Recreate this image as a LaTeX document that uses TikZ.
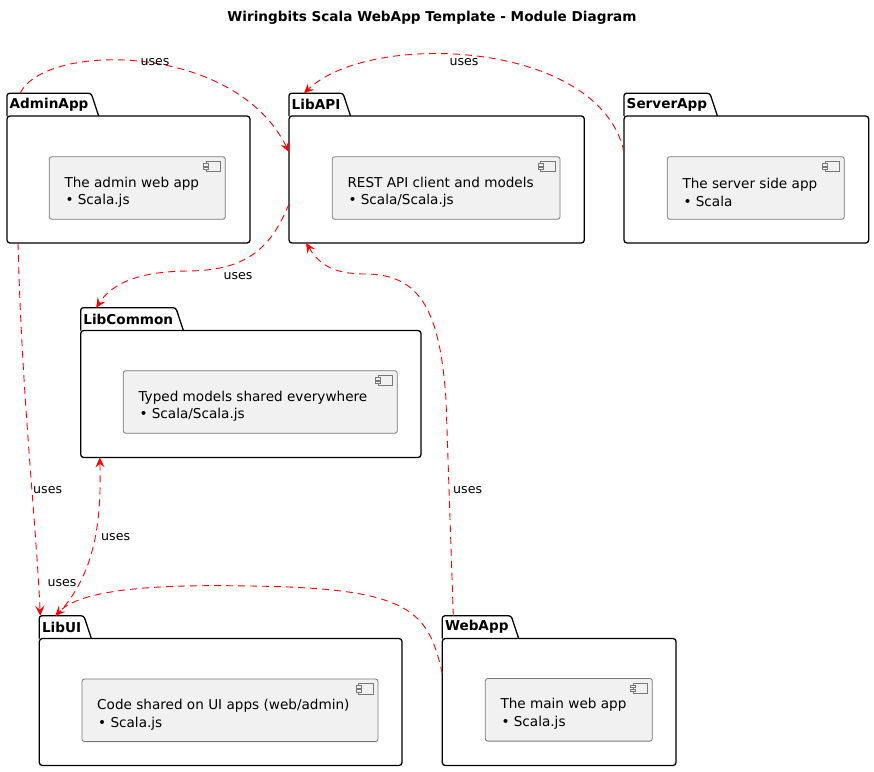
\documentclass[tikz,border=0pt]{standalone}
\usepackage{fontspec}
\setmainfont{DejaVu Sans}
\usepackage{tikz}
\usetikzlibrary{arrows.meta}
\usepackage{xcolor}
\definecolor{ColEdge}{RGB}{255,0,0}
\definecolor{ColComp}{RGB}{241,241,241}
\definecolor{ColCompLine}{RGB}{120,120,120}
\tikzstyle{PkgBody}=[draw=black,fill=white,line width=1.3pt,rounded corners=3pt,anchor=north west,
inner sep=0pt,outer sep=0pt,minimum height=127pt]
\tikzstyle{PkgTab}=[anchor=south west,inner xsep=2.7pt,inner ysep=0pt,outer sep=0pt,minimum height=22.7pt,
font=\fontsize{13.6}{16}\selectfont\bfseries]
\tikzstyle{PkgTabLine}=[draw=black,line width=1.3pt,rounded corners=2.5pt]
\tikzstyle{CompBox}=[draw=ColCompLine,fill=ColComp,line width=0.8pt,rounded corners=2.5pt,anchor=north west,
inner sep=0pt,outer sep=0pt,minimum height=62.6pt]
\tikzstyle{CompText}=[anchor=west,align=left,inner sep=0pt,font=\fontsize{13.6}{17.7}\selectfont]
\tikzstyle{CompIcon}=[draw=ColCompLine,fill=ColComp,line width=0.7pt]
\tikzstyle{EdgeUses}=[ColEdge,line width=0.9pt,dash pattern=on 7pt off 5pt,
-{Stealth[length=10pt,width=9pt,inset=4pt]}]
\tikzstyle{EdgeLabel}=[inner sep=0pt,font=\fontsize{12.6}{15}\selectfont]
\tikzstyle{TitleText}=[font=\fontsize{13.6}{16}\selectfont\bfseries]

\begin{document}
\begin{tikzpicture}[x=1pt,y=-1pt]
        \useasboundingbox (0,0) rectangle (874,771);
        \node[TitleText](Title)at(432,18){Wiringbits Scala WebApp Template - Module Diagram};
        % packages
        \node[PkgBody,minimum width=243pt](AdminApp)at(7,116){};
        \node[PkgTab](AdminAppTab)at(AdminApp.north west){AdminApp};
        \node[PkgBody,minimum width=295.3pt](LibAPI)at(289,116){};
        \node[PkgTab](LibAPITab)at(LibAPI.north west){LibAPI};
        \node[PkgBody,minimum width=244.7pt](ServerApp)at(624,116){};
        \node[PkgTab](ServerAppTab)at(ServerApp.north west){ServerApp};
        \node[PkgBody,minimum width=340.3pt](LibCommon)at(80.7,330.5){};
        \node[PkgTab](LibCommonTab)at(LibCommon.north west){LibCommon};
        \node[PkgBody,minimum width=362.7pt](LibUI)at(39.3,638.5){};
        \node[PkgTab](LibUITab)at(LibUI.north west){LibUI};
        \node[PkgBody,minimum width=233.7pt](WebApp)at(442.3,638.5){};
        \node[PkgTab](WebAppTab)at(WebApp.north west){WebApp};
        \foreach \p in {AdminAppTab,LibAPITab,ServerAppTab,LibCommonTab,LibUITab,WebAppTab}
          \draw[PkgTabLine](\p.south west)--(\p.north west)--(\p.north east)--([xshift=7.5pt]\p.south east);
        % components
        \node[CompBox,minimum width=176pt](AdminComp)at(49.3,156.7){};
        \node[CompText](AdminText)at([shift={(15,35.5)}]AdminComp.north west)
          {The admin web app\\\hspace*{1pt}• Scala.js};
        \node[CompBox,minimum width=227.7pt](LibAPIComp)at(332.3,156.7){};
        \node[CompText](LibAPIText)at([shift={(15,35.5)}]LibAPIComp.north west)
          {REST API client and models\\\hspace*{1pt}• Scala/Scala.js};
        \node[CompBox,minimum width=177pt](ServerComp)at(667.3,156.7){};
        \node[CompText](ServerText)at([shift={(15,35.5)}]ServerComp.north west)
          {The server side app\\\hspace*{1pt}• Scala};
        \node[CompBox,minimum width=274pt](LibCommonComp)at(123.3,370.7){};
        \node[CompText](LibCommonText)at([shift={(15,35.5)}]LibCommonComp.north west)
          {Typed models shared everywhere\\\hspace*{1pt}• Scala/Scala.js};
        \node[CompBox,minimum width=296pt](LibUIComp)at(82,679){};
        \node[CompText](LibUIText)at([shift={(15,35.5)}]LibUIComp.north west)
          {Code shared on UI apps (web/admin)\\\hspace*{1pt}• Scala.js};
        \node[CompBox,minimum width=167pt](WebComp)at(485.3,678.5){};
        \node[CompText](WebText)at([shift={(15,35.5)}]WebComp.north west)
          {The main web app\\\hspace*{1pt}• Scala.js};
        \foreach \c in {AdminComp,LibAPIComp,ServerComp,LibCommonComp,LibUIComp,WebComp}{
          \draw[CompIcon]([shift={(-19.3,4.5)}]\c.north east)rectangle([shift={(-5,15)}]\c.north east);
          \draw[CompIcon]([shift={(-22,6.8)}]\c.north east)rectangle([shift={(-16.5,9.2)}]\c.north east);
          \draw[CompIcon]([shift={(-22,10.6)}]\c.north east)rectangle([shift={(-16.5,13)}]\c.north east);
        }
        % uses
        \draw[EdgeUses]([xshift=13pt]AdminAppTab.north west)..controls(45,42)and(235,42)..([shift={(0,36)}]LibAPI.north west);
        \node[EdgeLabel](UsesAdminApi)at(155,62){uses};
        \draw[EdgeUses]([shift={(0,36)}]ServerApp.north west)..controls(600,40)and(370,30)..([xshift=15pt]LibAPITab.north west);
        \node[EdgeLabel](UsesServerApi)at(464,62){uses};
        \draw[EdgeUses]([shift={(0,88)}]LibAPI.north west)..controls(272,245)and(250,270)..(190,271)
          ..controls(140,271)and(112,283)..([xshift=15.5pt]LibCommonTab.north west);
        \node[EdgeLabel](UsesApiCommon)at(238,276){uses};
        \draw[EdgeUses]([xshift=11pt]WebAppTab.north west)--(446,400)..controls(440,310)and(420,274)..(365,274)
          ..controls(330,274)and(318,262)..([xshift=17pt]LibAPI.south west);
        \node[EdgeLabel,anchor=west](UsesWebApi)at(453,490){uses};
        \draw[EdgeUses]([xshift=11pt]AdminApp.south west)..controls(22,400)and(36,520)..([xshift=1pt]LibUITab.north west);
        \node[EdgeLabel,anchor=west](UsesAdminUI)at(33,490){uses};
        \draw[EdgeUses]([xshift=17pt]LibUITab.north west)..controls(92,578)and(102,530)..([xshift=19pt]LibCommon.south west);
        \node[EdgeLabel,anchor=west](UsesUICommon)at(101,537){uses};
        \draw[EdgeUses]([shift={(0,35)}]WebApp.north west)..controls(428,610)and(410,588)..(250,586)
          ..controls(150,584)and(80,590)..([xshift=16pt]LibUITab.north west);
        \node[EdgeLabel](UsesWebUI)at(62,583){uses};
    \end{tikzpicture}
\end{document}
